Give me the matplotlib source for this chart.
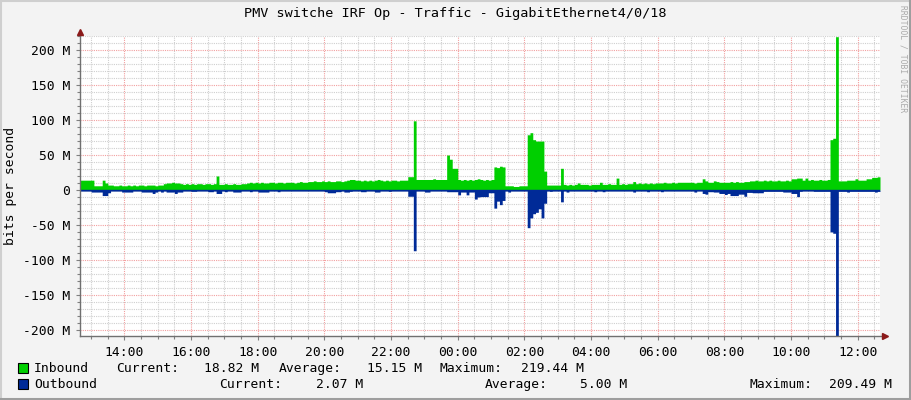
import numpy as np
import matplotlib
matplotlib.use("Agg")
import matplotlib.pyplot as plt
from matplotlib.patches import Rectangle
from matplotlib.lines import Line2D

# 5 minute samples starting 12:40, one row per hour (Mbit/s)
inbound = [
    14, 14, 14, 14, 14, 6, 6, 6, 14, 10, 7, 7,
    6, 6, 7, 6, 6, 7, 6, 7, 6, 7, 7, 6,
    7, 7, 7, 6, 7, 7, 9, 10, 10, 11, 10, 10,
    9, 8, 9, 8, 9, 8, 9, 9, 8, 9, 9, 8,
    9, 20, 8, 8, 9, 8, 8, 9, 8, 8, 9, 9,
    10, 11, 10, 11, 10, 11, 10, 10, 11, 11, 10, 11,
    11, 10, 11, 11, 11, 10, 11, 12, 11, 11, 12, 12,
    13, 12, 12, 13, 12, 13, 12, 12, 13, 13, 12, 13,
    14, 15, 15, 14, 14, 13, 14, 13, 14, 13, 14, 15,
    14, 13, 14, 13, 14, 14, 13, 14, 14, 14, 19, 19,
    99, 15, 15, 15, 15, 15, 15, 16, 15, 15, 15, 15,
    50, 44, 31, 31, 15, 14, 15, 14, 15, 14, 15, 16,
    15, 14, 15, 14, 15, 33, 32, 34, 33, 6, 6, 6,
    5, 5, 6, 6, 6, 79, 82, 72, 70, 70, 70, 27,
    7, 7, 7, 7, 7, 31, 8, 7, 8, 7, 8, 10,
    8, 8, 8, 7, 8, 8, 8, 11, 8, 8, 9, 8,
    8, 17, 8, 9, 8, 9, 9, 12, 9, 10, 9, 10,
    9, 10, 9, 10, 10, 10, 11, 10, 10, 11, 10, 11,
    11, 11, 11, 11, 11, 10, 11, 11, 16, 13, 11, 11,
    13, 12, 11, 11, 11, 11, 12, 11, 12, 11, 11, 12,
    12, 13, 13, 14, 13, 13, 14, 13, 14, 13, 13, 14,
    13, 13, 14, 13, 16, 16, 17, 17, 14, 17, 14, 15,
    14, 14, 15, 14, 14, 15, 72, 74, 219.44, 13, 13, 13,
    14, 14, 14, 16, 14, 14, 14, 16, 16, 18, 18, 18.82,
]
outbound = [
    1.5, 1.5, 1.5, 1.5, 3, 3, 3, 3, 8, 8, 4, 1.5,
    1.5, 1.5, 1.5, 3, 3, 3, 3, 1.5, 1.5, 1.5, 3, 3,
    3, 3, 5, 3, 1.5, 3, 1.5, 3, 3, 3, 5, 3,
    3, 1.5, 1.5, 1.5, 2, 2, 1.5, 1.5, 1.5, 1.5, 2.5, 2.5,
    1.5, 5, 5, 1.5, 2.5, 1.5, 1.5, 3, 3, 3, 1.5, 1.5,
    1.5, 2.5, 1.5, 1.5, 3, 3, 3, 3, 1.5, 1.5, 1.5, 2.5,
    1.5, 1.5, 1.5, 1.5, 1.5, 1.5, 1.5, 1.5, 1.5, 1.5, 1.5, 1.5,
    1.5, 1.5, 1.5, 1.5, 2.5, 4, 4, 4, 2.5, 2.5, 1.5, 3,
    3, 2, 1.5, 1.5, 1.5, 2.5, 2.5, 1.5, 1.5, 1.5, 3, 3,
    1.5, 1.5, 1.5, 2, 1.5, 1.5, 1.5, 1.5, 1.5, 1.5, 9, 9,
    87, 1.5, 1.5, 1.5, 3, 3, 1.5, 1.5, 1.5, 1.5, 1.5, 1.5,
    2.5, 2.5, 2.5, 2.5, 7, 3, 3, 7, 3, 3, 13, 10,
    9.5, 9.5, 9.5, 4, 4, 26, 16, 21, 15, 1.5, 3, 1.5,
    1.5, 1.5, 1.5, 1.5, 1.5, 54, 40, 34, 32, 27, 40, 19,
    1.5, 2, 1.5, 1.5, 1.5, 17, 1.5, 3, 1.5, 1.5, 1.5, 1.5,
    1.5, 1.5, 1.5, 1.5, 1.5, 2.5, 1.5, 1.5, 2.5, 1.5, 1.5, 1.5,
    1.5, 1.5, 1.5, 1.5, 1.5, 1.5, 1.5, 3, 1.5, 1.5, 1.5, 1.5,
    2.5, 1.5, 1.5, 1.5, 1.5, 2.5, 1.5, 1.5, 1.5, 1.5, 1.5, 1.5,
    1.5, 1.5, 1.5, 1.5, 1.5, 3, 1.5, 1.5, 5, 6, 2.5, 2.5,
    3, 3, 5, 5, 6.5, 5, 8, 8, 8, 6, 6, 9,
    3.5, 3.5, 4, 4, 4, 4, 2, 2, 2, 2, 2, 2,
    2, 3, 3, 3, 5, 5, 9.5, 2, 1.5, 1.5, 1.5, 1.5,
    2, 2, 2, 2, 2, 2, 60, 62, 209.49, 2, 2, 2,
    3, 2, 2, 2, 2, 2, 2, 2, 2, 2, 3, 2.07,
]
start_hour = 12 + 40 / 60
tick_labels = ["14:00", "16:00", "18:00", "20:00", "22:00", "00:00",
               "02:00", "04:00", "06:00", "08:00", "10:00", "12:00"]

title = "PMV switche IRF Op - Traffic - GigabitEthernet4/0/18"
in_stats = ["18.82 M", "15.15 M", "219.44 M"]
out_stats = ["2.07 M", "5.00 M", "209.49 M"]

GREEN = "#00cf00"
BLUE = "#002a97"
FONT = "DejaVu Sans Mono"
FS = 9.4

plt.rcParams["font.family"] = FONT

fig = plt.figure(figsize=(9.11, 4.0), dpi=100, facecolor="#f3f3f3")
ax = fig.add_axes([80 / 911, (400 - 336.3) / 400, 800 / 911, 300 / 400])
ax.set_facecolor("white")

# time axis in hours since the first sample
t = np.arange(len(inbound) + 1) * 5 / 60
vin = np.append(inbound, inbound[-1])
vout = -np.append(outbound, outbound[-1])
ax.fill_between(t, 0, vin, step="post", color=GREEN, lw=0, zorder=3)
ax.fill_between(t, 0, vout, step="post", color=BLUE, lw=0, zorder=3)
ax.plot([0, t[-1]], [0, 0], color=BLUE, lw=1, zorder=4)

ax.set_xlim(0, 24)
ax.set_ylim(-209.5, 220)

major_x = (14 - start_hour) + 2 * np.arange(len(tick_labels))
minor_x = np.arange(1 / 3, 24, 0.5)
ax.set_xticks(major_x)
ax.set_xticklabels(tick_labels)
ax.set_xticks(minor_x, minor=True)

yt = np.arange(-200, 201, 50)
ax.set_yticks(yt)
ax.set_yticklabels(["%d M" % v if v != 0 else "0" for v in yt])
ax.set_yticks(np.arange(-200, 221, 10), minor=True)

ax.grid(which="minor", color="#cfcfcf", ls=(0, (1, 1)), lw=0.8, zorder=1)
ax.grid(which="major", color="#f2a0a0", ls=(0, (1, 1)), lw=0.8, zorder=2)
ax.set_axisbelow(True)

for s in ax.spines.values():
    s.set_visible(False)
ax.tick_params(which="both", direction="out", color="#808080",
               labelsize=FS, colors="black", width=0.8)
ax.tick_params(which="major", length=3, pad=4)
ax.tick_params(which="minor", length=2)

ax.set_ylabel("bits per second", fontsize=FS, labelpad=4)

# axis lines with arrows
ax.add_line(Line2D([0, 0], [0, 1 + 5 / 300], transform=ax.transAxes,
                   color="#707070", lw=1, clip_on=False, zorder=5))
ax.add_line(Line2D([0, 1 + 5 / 800], [0, 0], transform=ax.transAxes,
                   color="#707070", lw=1, clip_on=False, zorder=5))
ax.plot([0], [1 + 4 / 300], marker="^", ms=5, color="#8b1a1a",
        transform=ax.transAxes, clip_on=False, zorder=6)
ax.plot([1 + 5 / 800], [0], marker=">", ms=5, color="#8b1a1a",
        transform=ax.transAxes, clip_on=False, zorder=6)

fig.text(455.5 / 911, 1 - 14 / 400, title, ha="center", va="center",
         fontsize=9.7)
fig.text(903 / 911, 1 - 5 / 400, "RRDTOOL / TOBI OETIKER", rotation=-90,
         ha="center", va="top", fontsize=5.8, color="#aaaaaa")

# legend
def fx(px):
    return px / 911


def fy(py):
    return 1 - py / 400


fig.patches.append(Rectangle((fx(17.5), fy(373)), 10 / 911, 10 / 400,
                             transform=fig.transFigure, facecolor=GREEN,
                             edgecolor="black", lw=0.8))
fig.patches.append(Rectangle((fx(17.5), fy(389)), 10 / 911, 10 / 400,
                             transform=fig.transFigure, facecolor=BLUE,
                             edgecolor="black", lw=0.8))

row1 = [(34, "Inbound"), (116, "Current:"), (204, in_stats[0]),
        (279, "Average:"), (367, in_stats[1]), (440, "Maximum:"),
        (521, in_stats[2])]
row2 = [(34, "Outbound"), (219, "Current:"), (316, out_stats[0]),
        (485, "Average:"), (580, out_stats[1]), (749, "Maximum:"),
        (829, out_stats[2])]
for px, s in row1:
    fig.text(fx(px), fy(368.5), s, ha="left", va="center", fontsize=FS)
for px, s in row2:
    fig.text(fx(px), fy(384.5), s, ha="left", va="center", fontsize=FS)

# border shading
fig.add_artist(Line2D([0, 1], [1 - 1 / 400, 1 - 1 / 400], color="#cfcfcf", lw=1.5))
fig.add_artist(Line2D([1 / 911, 1 / 911], [0, 1], color="#cfcfcf", lw=1.5))
fig.add_artist(Line2D([0, 1], [1.5 / 400, 1.5 / 400], color="#9e9e9e", lw=2.2))
fig.add_artist(Line2D([1 - 1.5 / 911, 1 - 1.5 / 911], [0, 1], color="#9e9e9e", lw=2.2))

fig.savefig("out.png", dpi=100, facecolor=fig.get_facecolor())
